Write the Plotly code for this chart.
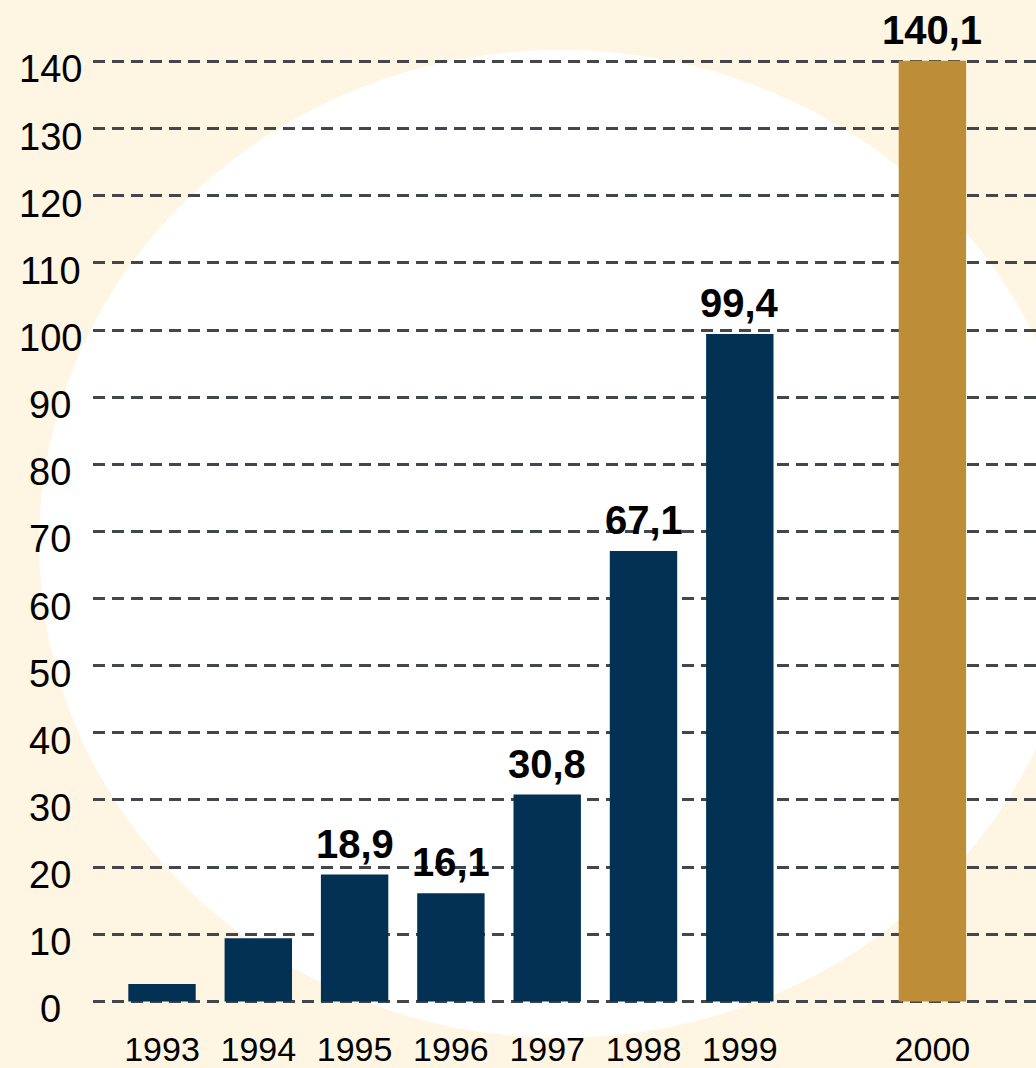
import plotly.graph_objects as go

years = ["1993", "1994", "1995", "1996", "1997", "1998", "1999", " ", "2000"]
values = [2.6, 9.4, 18.9, 16.1, 30.8, 67.1, 99.4, None, 140.1]
labels = ["", "", "18,9", "16,1", "30,8", "67,1", "99,4", "", "140,1"]
bar_colors = ["#023153"] * 7 + ["#023153", "#BD8E37"]
y_ticks = [0, 10, 20, 30, 40, 50, 60, 70, 80, 90, 100, 110, 120, 130, 140]

W, H = 1036, 1068
L, B = 93, 38
plot_w = W - L
plot_h = H - B
px_per_cat = 96.3
x0_px = 162
px_per_unit = 6.74
zero_px = 1005.3

xr = [(L - x0_px) / px_per_cat, (W - x0_px) / px_per_cat]
yr = [-(plot_h - zero_px) / px_per_unit, zero_px / px_per_unit]

FONT = "Liberation Sans, Arial, sans-serif"

fig = go.Figure()
fig.add_trace(go.Bar(
    x=years, y=values,
    marker=dict(color=bar_colors, line=dict(width=0)),
    cliponaxis=False, width=0.7, hoverinfo="skip",
))

for i, (v, lab) in enumerate(zip(values, labels)):
    if lab and v is not None:
        fig.add_annotation(x=i, y=v, xref="x", yref="y", text="<b>%s</b>" % lab,
                           showarrow=False, xanchor="center", yanchor="bottom", yshift=7,
                           font=dict(family=FONT, size=40, color="#000000"))

def px_to_paper_x(p):
    return (p - L) / plot_w

def px_to_paper_y(p):
    return 1 - p / plot_h

fig.add_shape(type="circle", xref="paper", yref="paper",
              x0=px_to_paper_x(39), x1=px_to_paper_x(1083),
              y0=px_to_paper_y(1042), y1=px_to_paper_y(50),
              fillcolor="#FFFFFF", line=dict(width=0), layer="below")

for t in y_ticks:
    fig.add_annotation(x=px_to_paper_x(50), xref="paper", y=t, yref="y",
                       text=str(t), showarrow=False, xanchor="center", yanchor="middle",
                       yshift=-8,
                       font=dict(family=FONT, size=38, color="#000000"))

fig.update_layout(
    width=W, height=H,
    margin=dict(l=L, r=0, t=0, b=B, pad=0),
    paper_bgcolor="#FEF5E2", plot_bgcolor="rgba(0,0,0,0)",
    showlegend=False, bargap=0.3,
    xaxis=dict(type="category", range=xr, showgrid=False, zeroline=False, showline=False,
               ticks="", tickfont=dict(family=FONT, size=34, color="#000000")),
    yaxis=dict(range=yr, tickvals=y_ticks, showticklabels=False, showgrid=True,
               gridcolor="#43464A", gridwidth=2.5, griddash="12px,7px",
               zeroline=False, showline=False, ticks=""),
)

fig.write_html("out.html")
